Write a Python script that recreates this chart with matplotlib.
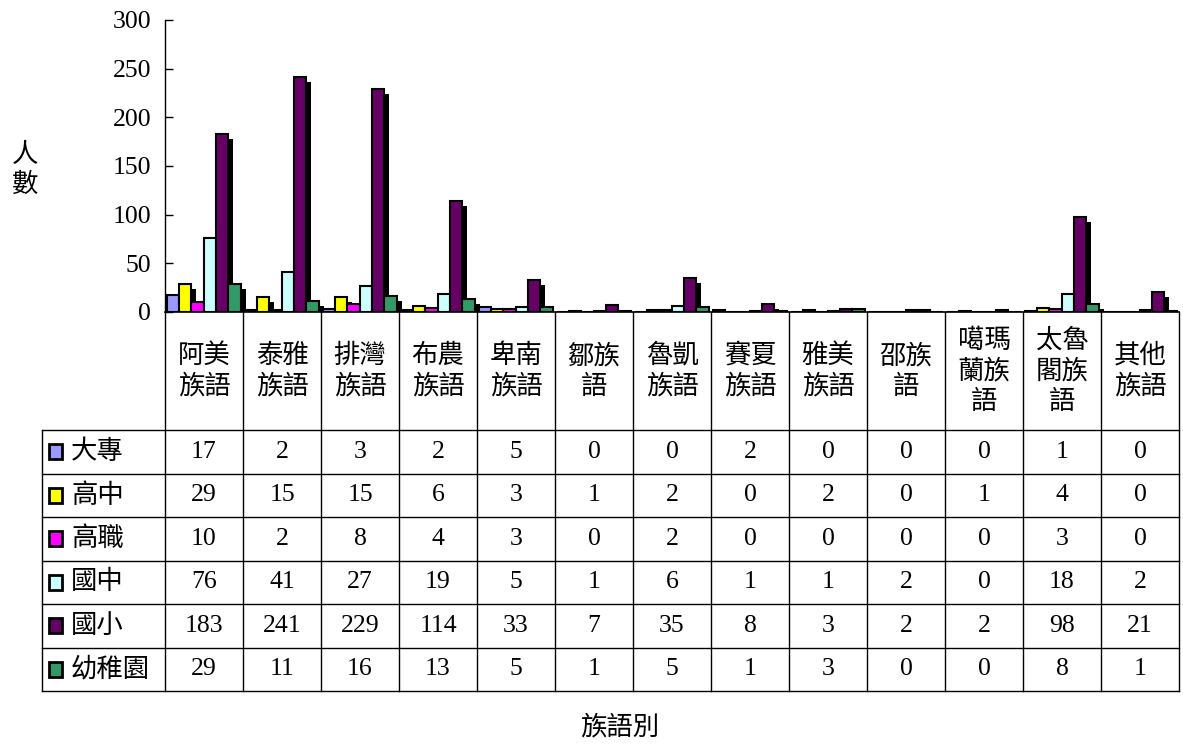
import matplotlib
matplotlib.use("Agg")
import matplotlib.pyplot as plt
import matplotlib.patheffects as pe
from matplotlib.patches import Rectangle
from matplotlib.transforms import blended_transform_factory

plt.rcParams['font.family'] = ['Liberation Serif', 'Noto Sans CJK TC']

# data
categories = ['阿美族語', '泰雅族語', '排灣族語', '布農族語', '卑南族語', '鄒族語', '魯凱族語',
              '賽夏族語', '雅美族語', '邵族語', '噶瑪蘭族語', '太魯閣族語', '其他族語']
levels = ['大專', '高中', '高職', '國中', '國小', '幼稚園']
college = [17, 2, 3, 2, 5, 0, 0, 2, 0, 0, 0, 1, 0]
senior_high = [29, 15, 15, 6, 3, 1, 2, 0, 2, 0, 1, 4, 0]
vocational = [10, 2, 8, 4, 3, 0, 2, 0, 0, 0, 0, 3, 0]
junior_high = [76, 41, 27, 19, 5, 1, 6, 1, 1, 2, 0, 18, 2]
elementary = [183, 241, 229, 114, 33, 7, 35, 8, 3, 2, 2, 98, 21]
kindergarten = [29, 11, 16, 13, 5, 1, 5, 1, 3, 0, 0, 8, 1]
series = [college, senior_high, vocational, junior_high, elementary, kindergarten]
colors = ['#9999FF', '#FFFF00', '#FF00FF', '#CCFFFF', '#660066', '#339966']

W, H = 1183, 745
fig = plt.figure(figsize=(W / 100, H / 100), dpi=100)

# overlay in pixel coords for the data table
ov = fig.add_axes([0, 0, 1, 1])
ov.set_xlim(0, W)
ov.set_ylim(H, 0)
ov.axis('off')
ov.patch.set_visible(False)

ax = fig.add_axes([165 / W, 1 - 312 / H, (1179 - 165) / W, (312 - 20) / H])
n = len(categories)
bw = 0.158
off = 0.02
shadow = [pe.SimplePatchShadow(offset=(3.6, -3.6), shadow_rgbFace='black', alpha=1.0), pe.Normal()]
for j, (vals, c) in enumerate(zip(series, colors)):
    xs = [i + off + j * bw for i in range(n)]
    bars = ax.bar(xs, vals, width=bw, align='edge', color=c, edgecolor='black', linewidth=1.5)
    for b in bars:
        b.set_path_effects(shadow)

ax.set_xlim(0, n)
ax.set_ylim(0, 300)
ax.set_yticks(range(0, 301, 50))
ax.tick_params(axis='y', direction='in', length=6, width=1, labelsize=18.5, pad=10)
ax.set_xticks([])
for s in ['top', 'right']:
    ax.spines[s].set_visible(False)
ax.spines['left'].set_linewidth(1)
ax.spines['bottom'].set_linewidth(1.2)

ov.text(25, 170, '人\n數', fontsize=19, ha='center', va='center', linespacing=1.3)
ov.text(620, 727, '族語別', fontsize=19, ha='center', va='center')

# data table
tr = blended_transform_factory(ax.transData, ov.transData)
top_hdr, top_rows, bottom = 312, 430, 691
rh = (bottom - top_rows) / len(levels)
for i in range(n + 1):
    ov.plot([i, i], [top_hdr, bottom], color='black', lw=1, transform=tr, clip_on=False)
ov.plot([42, 42], [top_rows, bottom], color='black', lw=1, clip_on=False)
for k in range(len(levels) + 1):
    y = top_rows + k * rh
    ov.plot([42, 1179], [y, y], color='black', lw=1, clip_on=False)

for i, name in enumerate(categories):
    label = '\n'.join(name[p:p + 2] for p in range(0, len(name), 2))
    ov.text(i + 0.5, (top_hdr + top_rows) / 2, label, transform=tr, ha='center', va='center',
            fontsize=19, linespacing=1.32)

for k, (lvl, vals, c) in enumerate(zip(levels, series, colors)):
    yc = top_rows + (k + 0.5) * rh
    ov.add_patch(Rectangle((49, yc - 7.5), 13, 15, facecolor=c, edgecolor='black', lw=2))
    ov.text(71, yc, lvl, ha='left', va='center', fontsize=19)
    for i, v in enumerate(vals):
        ov.text(i + 0.5, yc, str(v), transform=tr, ha='center', va='center', fontsize=18.5)

fig.savefig('out.png', dpi=100)
